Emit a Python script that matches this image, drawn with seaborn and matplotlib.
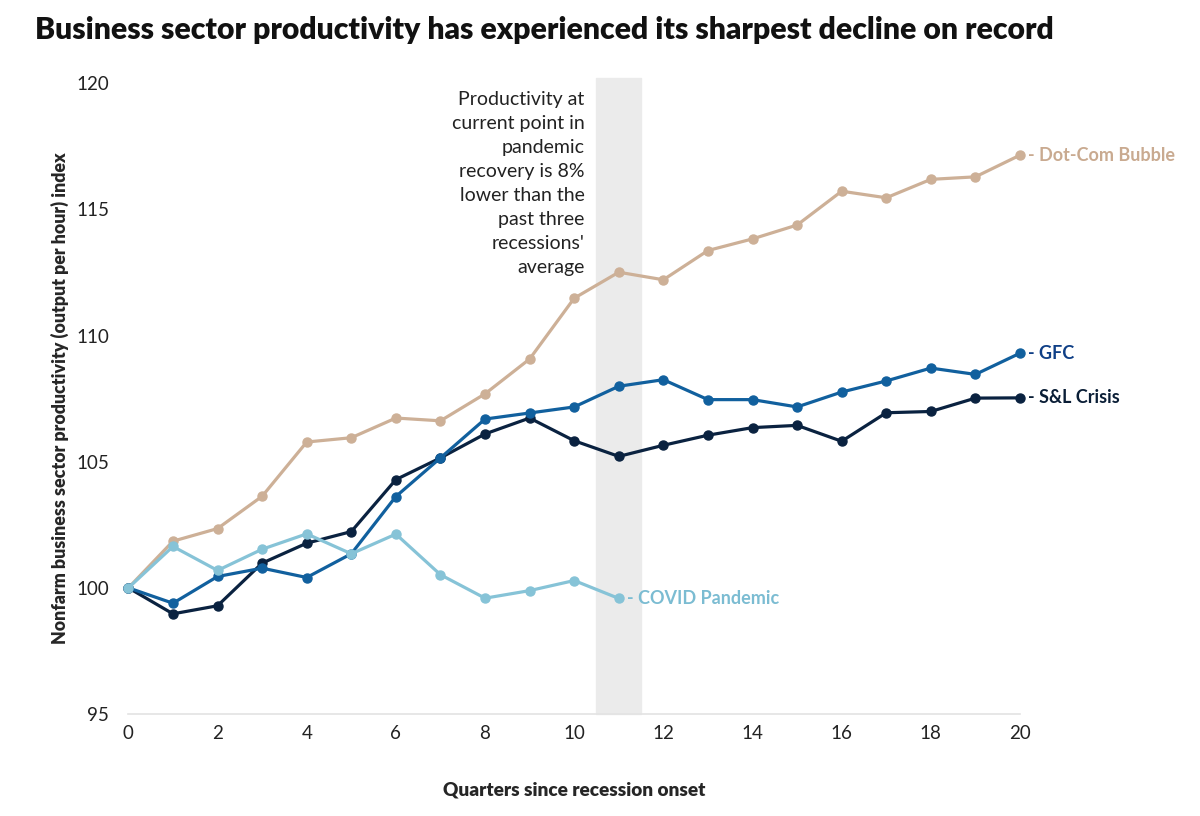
import seaborn as sns
import matplotlib.pyplot as plt
import pandas as pd

quarters = list(range(21))
dot_com = [100, 101.85, 102.35, 103.63, 105.78, 105.95, 106.73, 106.62, 107.69, 109.07,
           111.48, 112.51, 112.21, 113.37, 113.83, 114.38, 115.72, 115.46, 116.19, 116.29, 117.15]
gfc = [100, 99.39, 100.45, 100.78, 100.41, 101.35, 103.62, 105.15, 106.69, 106.93,
       107.17, 107.99, 108.25, 107.46, 107.46, 107.17, 107.76, 108.2, 108.71, 108.46, 109.3]
sl_crisis = [100, 98.97, 99.29, 100.98, 101.77, 102.23, 104.29, 105.15, 106.1, 106.73,
             105.83, 105.21, 105.65, 106.05, 106.35, 106.44, 105.81, 106.94, 106.99, 107.52, 107.53]
covid = [100, 101.64, 100.69, 101.53, 102.14, 101.35, 102.13, 100.52, 99.59, 99.89, 100.29, 99.58]

series = {
    'Dot-Com Bubble': dot_com,
    'S&L Crisis': sl_crisis,
    'GFC': gfc,
    'COVID Pandemic': covid,
}
line_colors = {
    'Dot-Com Bubble': '#CDB097',
    'S&L Crisis': '#0A2240',
    'GFC': '#11609E',
    'COVID Pandemic': '#86C3D7',
}
label_colors = {
    'Dot-Com Bubble': '#C9AA90',
    'S&L Crisis': '#0A1E36',
    'GFC': '#0F3F86',
    'COVID Pandemic': '#7BBCD2',
}

rows = []
for name, vals in series.items():
    for q, v in zip(quarters, vals):
        rows.append({'quarter': q, 'value': v, 'recession': name})
df = pd.DataFrame(rows)

sns.set_style('white')
plt.rcParams['font.family'] = ['Lato', 'DejaVu Sans']

fig = plt.figure(figsize=(12, 8.16), dpi=100)
ax = fig.add_axes([0.107, 0.125, 0.743, 0.773])

# shaded current quarter
ax.axvspan(10.5, 11.5, ymin=0, ymax=1.008, color='#EBEBEB', zorder=0, clip_on=False)

sns.lineplot(data=df, x='quarter', y='value', hue='recession',
             hue_order=list(series.keys()), palette=line_colors,
             marker='o', markersize=6.5, markeredgewidth=1.0, linewidth=2.3,
             legend=False, ax=ax, zorder=3)
for line in ax.lines:
    line.set_clip_on(False)
    line.set_markeredgecolor(line.get_color())

ax.set_xlim(0, 20)
ax.set_ylim(95, 120)
ax.set_xticks(range(0, 21, 2))
ax.set_yticks(range(95, 121, 5))
ax.tick_params(axis='both', length=0, labelsize=13.5, colors='#222222')
ax.tick_params(axis='x', pad=8)
ax.tick_params(axis='y', pad=14)
for side in ['top', 'right', 'left']:
    ax.spines[side].set_visible(False)
ax.spines['bottom'].set_color('#E3E3E3')
ax.spines['bottom'].set_linewidth(1.2)

ax.set_xlabel('Quarters since recession onset', fontsize=13.7, fontweight='heavy', labelpad=28)
ax.set_ylabel('Nonfarm business sector productivity (output per hour) index',
              fontsize=12.8, fontweight='heavy', labelpad=5)

# end labels
for name, vals in series.items():
    ax.annotate('- ' + name, xy=(len(vals) - 1, vals[-1]), xytext=(6, 0),
                textcoords='offset points', va='center', ha='left',
                fontsize=13, fontweight='bold', color=label_colors[name])

ax.text(10.23, 119.7,
        "Productivity at\ncurrent point in\npandemic\nrecovery is 8%\nlower than the\npast three\nrecessions'\naverage",
        ha='right', va='top', fontsize=14, color='#222222', linespacing=1.5)

fig.text(0.029, 0.963, 'Business sector productivity has experienced its sharpest decline on record',
         fontsize=21.7, fontweight='heavy', ha='left', va='center', color='#111111')

fig.savefig('out.png', dpi=100)
